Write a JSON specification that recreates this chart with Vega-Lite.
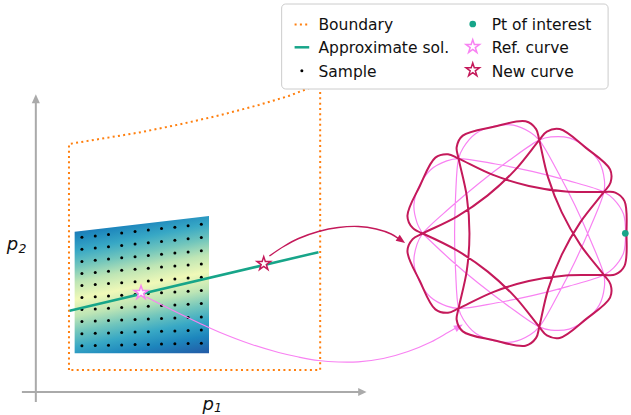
{
  "$schema": "https://vega.github.io/schema/vega-lite/v6.json",
  "width": 631,
  "height": 415,
  "autosize": {"type": "fit", "contains": "padding"},
  "padding": 0,
  "background": "white",
  "config": {"view": {"stroke": null}},
  "datasets": {
    "patch": [{"x": 75, "y": 231.7, "y2": 353.3}, {"x": 210, "y": 216, "y2": 353.3}],
    "boundary": [
      {"i": 0, "x": 69.3, "y": 370}, {"i": 1, "x": 69.3, "y": 144}, {"i": 2, "x": 100, "y": 139},
      {"i": 3, "x": 140, "y": 132.5}, {"i": 4, "x": 180, "y": 124.5}, {"i": 5, "x": 220, "y": 115.5},
      {"i": 6, "x": 260, "y": 105}, {"i": 7, "x": 290, "y": 96}, {"i": 8, "x": 307, "y": 89.5},
      {"i": 9, "x": 321.7, "y": 84}, {"i": 10, "x": 321.7, "y": 370}, {"i": 11, "x": 69.3, "y": 370}
    ],
    "grid": [
      {"x": 82.3, "y": 237.3}, {"x": 82.3, "y": 249.3}, {"x": 82.3, "y": 261.4}, {"x": 82.3, "y": 273.4}, {"x": 82.3, "y": 285.5}, {"x": 82.3, "y": 297.5}, {"x": 82.3, "y": 309.6}, {"x": 82.3, "y": 321.6}, {"x": 82.3, "y": 333.7}, {"x": 82.3, "y": 345.7},
      {"x": 95.7, "y": 235.9}, {"x": 95.7, "y": 248.0}, {"x": 95.7, "y": 260.2}, {"x": 95.7, "y": 272.4}, {"x": 95.7, "y": 284.6}, {"x": 95.7, "y": 296.7}, {"x": 95.7, "y": 308.9}, {"x": 95.7, "y": 321.1}, {"x": 95.7, "y": 333.3}, {"x": 95.7, "y": 345.4},
      {"x": 109.0, "y": 234.4}, {"x": 109.0, "y": 246.7}, {"x": 109.0, "y": 259.0}, {"x": 109.0, "y": 271.3}, {"x": 109.0, "y": 283.6}, {"x": 109.0, "y": 296.0}, {"x": 109.0, "y": 308.3}, {"x": 109.0, "y": 320.6}, {"x": 109.0, "y": 332.9}, {"x": 109.0, "y": 345.2},
      {"x": 122.3, "y": 233.0}, {"x": 122.3, "y": 245.4}, {"x": 122.3, "y": 257.8}, {"x": 122.3, "y": 270.3}, {"x": 122.3, "y": 282.7}, {"x": 122.3, "y": 295.2}, {"x": 122.3, "y": 307.6}, {"x": 122.3, "y": 320.0}, {"x": 122.3, "y": 332.5}, {"x": 122.3, "y": 344.9},
      {"x": 135.7, "y": 231.5}, {"x": 135.7, "y": 244.1}, {"x": 135.7, "y": 256.7}, {"x": 135.7, "y": 269.2}, {"x": 135.7, "y": 281.8}, {"x": 135.7, "y": 294.4}, {"x": 135.7, "y": 306.9}, {"x": 135.7, "y": 319.5}, {"x": 135.7, "y": 332.1}, {"x": 135.7, "y": 344.6},
      {"x": 149.0, "y": 230.1}, {"x": 149.0, "y": 242.8}, {"x": 149.0, "y": 255.5}, {"x": 149.0, "y": 268.2}, {"x": 149.0, "y": 280.9}, {"x": 149.0, "y": 293.6}, {"x": 149.0, "y": 306.3}, {"x": 149.0, "y": 319.0}, {"x": 149.0, "y": 331.7}, {"x": 149.0, "y": 344.4},
      {"x": 162.3, "y": 228.6}, {"x": 162.3, "y": 241.5}, {"x": 162.3, "y": 254.3}, {"x": 162.3, "y": 267.1}, {"x": 162.3, "y": 280.0}, {"x": 162.3, "y": 292.8}, {"x": 162.3, "y": 305.6}, {"x": 162.3, "y": 318.4}, {"x": 162.3, "y": 331.3}, {"x": 162.3, "y": 344.1},
      {"x": 175.7, "y": 227.2}, {"x": 175.7, "y": 240.2}, {"x": 175.7, "y": 253.1}, {"x": 175.7, "y": 266.1}, {"x": 175.7, "y": 279.0}, {"x": 175.7, "y": 292.0}, {"x": 175.7, "y": 305.0}, {"x": 175.7, "y": 317.9}, {"x": 175.7, "y": 330.9}, {"x": 175.7, "y": 343.8},
      {"x": 189.0, "y": 225.7}, {"x": 189.0, "y": 238.8}, {"x": 189.0, "y": 251.9}, {"x": 189.0, "y": 265.0}, {"x": 189.0, "y": 278.1}, {"x": 189.0, "y": 291.2}, {"x": 189.0, "y": 304.3}, {"x": 189.0, "y": 317.4}, {"x": 189.0, "y": 330.5}, {"x": 189.0, "y": 343.6},
      {"x": 202.3, "y": 224.3}, {"x": 202.3, "y": 237.5}, {"x": 202.3, "y": 250.7}, {"x": 202.3, "y": 264.0}, {"x": 202.3, "y": 277.2}, {"x": 202.3, "y": 290.4}, {"x": 202.3, "y": 303.6}, {"x": 202.3, "y": 316.9}, {"x": 202.3, "y": 330.1}, {"x": 202.3, "y": 343.3}
    ],
    "sol": [{"x": 70, "y": 310.7}, {"x": 320, "y": 252.2}],
    "pinkArrow": [
      {"i": 0, "x": 147, "y": 297}, {"i": 1, "x": 175, "y": 311}, {"i": 2, "x": 200, "y": 323}, {"i": 3, "x": 220, "y": 332},
      {"i": 4, "x": 253, "y": 344.5}, {"i": 5, "x": 280, "y": 352.5}, {"i": 6, "x": 300, "y": 357}, {"i": 7, "x": 320, "y": 360.5},
      {"i": 8, "x": 340, "y": 362}, {"i": 9, "x": 360, "y": 361.8}, {"i": 10, "x": 385, "y": 358.5}, {"i": 11, "x": 410, "y": 351.5},
      {"i": 12, "x": 433, "y": 342}, {"i": 13, "x": 450, "y": 332.5}, {"i": 14, "x": 458, "y": 328}
    ],
    "darkArrow": [
      {"i": 0, "x": 270.7, "y": 256}, {"i": 1, "x": 285, "y": 246.5}, {"i": 2, "x": 300, "y": 238.5}, {"i": 3, "x": 320, "y": 231.5},
      {"i": 4, "x": 340, "y": 227.5}, {"i": 5, "x": 360, "y": 226.5}, {"i": 6, "x": 378, "y": 229}, {"i": 7, "x": 393, "y": 234}, {"i": 8, "x": 401, "y": 239}
    ],
    "pink": [
      {"i": 0, "x": 424.7, "y": 233.5}, {"i": 1, "x": 419.06, "y": 222.84}, {"i": 2, "x": 415.9, "y": 204.69}, {"i": 3, "x": 421.39, "y": 185.77},
      {"i": 4, "x": 432.75, "y": 169.68}, {"i": 5, "x": 448.92, "y": 160.84}, {"i": 6, "x": 460.77, "y": 158.6}, {"i": 7, "x": 497.95, "y": 164.01},
      {"i": 8, "x": 534.68, "y": 171.37}, {"i": 9, "x": 570.97, "y": 180.68}, {"i": 10, "x": 606.81, "y": 191.93}, {"i": 11, "x": 616.52, "y": 199.09},
      {"i": 12, "x": 626.5, "y": 214.07}, {"i": 13, "x": 628.5, "y": 233.5}, {"i": 14, "x": 626.5, "y": 252.93}, {"i": 15, "x": 616.52, "y": 267.91},
      {"i": 16, "x": 606.81, "y": 275.07}, {"i": 17, "x": 570.97, "y": 286.32}, {"i": 18, "x": 534.68, "y": 295.63}, {"i": 19, "x": 497.95, "y": 302.99},
      {"i": 20, "x": 460.77, "y": 308.4}, {"i": 21, "x": 448.92, "y": 306.16}, {"i": 22, "x": 432.75, "y": 297.32}, {"i": 23, "x": 421.39, "y": 281.23},
      {"i": 24, "x": 415.9, "y": 262.31}, {"i": 25, "x": 419.06, "y": 244.16}, {"i": 26, "x": 424.7, "y": 233.5}, {"i": 27, "x": 452.11, "y": 207.81},
      {"i": 28, "x": 480.76, "y": 183.67}, {"i": 29, "x": 510.67, "y": 161.1}, {"i": 30, "x": 541.82, "y": 140.1}, {"i": 31, "x": 553.47, "y": 136.97},
      {"i": 32, "x": 571.87, "y": 137.93}, {"i": 33, "x": 589.08, "y": 147.5}, {"i": 34, "x": 602.24, "y": 162.15}, {"i": 35, "x": 607.27, "y": 179.88},
      {"i": 36, "x": 606.81, "y": 191.93}, {"i": 37, "x": 593.27, "y": 226.98}, {"i": 38, "x": 577.92, "y": 261.15}, {"i": 39, "x": 560.77, "y": 294.46},
      {"i": 40, "x": 541.82, "y": 326.9}, {"i": 41, "x": 532.68, "y": 334.77}, {"i": 42, "x": 515.69, "y": 341.89}, {"i": 43, "x": 496.02, "y": 340.74},
      {"i": 44, "x": 477.81, "y": 333.25}, {"i": 45, "x": 465.59, "y": 319.46}, {"i": 46, "x": 460.77, "y": 308.4}, {"i": 47, "x": 457.77, "y": 270.95},
      {"i": 48, "x": 456.77, "y": 233.5}, {"i": 49, "x": 457.77, "y": 196.05}, {"i": 50, "x": 460.77, "y": 158.6}, {"i": 51, "x": 465.59, "y": 147.54},
      {"i": 52, "x": 477.81, "y": 133.75}, {"i": 53, "x": 496.02, "y": 126.26}, {"i": 54, "x": 515.69, "y": 125.11}, {"i": 55, "x": 532.68, "y": 132.23},
      {"i": 56, "x": 541.82, "y": 140.1}, {"i": 57, "x": 560.77, "y": 172.54}, {"i": 58, "x": 577.92, "y": 205.85}, {"i": 59, "x": 593.27, "y": 240.02},
      {"i": 60, "x": 606.81, "y": 275.07}, {"i": 61, "x": 607.27, "y": 287.12}, {"i": 62, "x": 602.24, "y": 304.85}, {"i": 63, "x": 589.08, "y": 319.5},
      {"i": 64, "x": 571.87, "y": 329.07}, {"i": 65, "x": 553.47, "y": 330.03}, {"i": 66, "x": 541.82, "y": 326.9}, {"i": 67, "x": 510.67, "y": 305.9},
      {"i": 68, "x": 480.76, "y": 283.33}, {"i": 69, "x": 452.11, "y": 259.19}, {"i": 70, "x": 424.7, "y": 233.5}
    ],
    "dark": [
      {"i": 0, "x": 424.7, "y": 233.5}, {"i": 1, "x": 414.65, "y": 227.95}, {"i": 2, "x": 409.38, "y": 215.9}, {"i": 3, "x": 421.84, "y": 185.99},
      {"i": 4, "x": 437.46, "y": 157.6}, {"i": 5, "x": 450.16, "y": 154.2}, {"i": 6, "x": 460.77, "y": 158.6}, {"i": 7, "x": 495.43, "y": 174.94},
      {"i": 8, "x": 531.36, "y": 185.92}, {"i": 9, "x": 568.49, "y": 191.61}, {"i": 10, "x": 606.81, "y": 191.93}, {"i": 11, "x": 618.28, "y": 192.57},
      {"i": 12, "x": 627.5, "y": 201.14}, {"i": 13, "x": 629.5, "y": 233.5}, {"i": 14, "x": 627.5, "y": 265.86}, {"i": 15, "x": 618.28, "y": 274.43},
      {"i": 16, "x": 606.81, "y": 275.07}, {"i": 17, "x": 568.49, "y": 275.39}, {"i": 18, "x": 531.36, "y": 281.08}, {"i": 19, "x": 495.43, "y": 292.06},
      {"i": 20, "x": 460.77, "y": 308.4}, {"i": 21, "x": 450.16, "y": 312.8}, {"i": 22, "x": 437.46, "y": 309.4}, {"i": 23, "x": 421.84, "y": 281.01},
      {"i": 24, "x": 409.38, "y": 251.1}, {"i": 25, "x": 414.65, "y": 239.05}, {"i": 26, "x": 424.7, "y": 233.5}, {"i": 27, "x": 459.09, "y": 216.58},
      {"i": 28, "x": 490.07, "y": 195.35}, {"i": 29, "x": 517.67, "y": 169.86}, {"i": 30, "x": 541.82, "y": 140.1}, {"i": 31, "x": 549.46, "y": 131.53},
      {"i": 32, "x": 562.38, "y": 129.09}, {"i": 33, "x": 588.77, "y": 147.89}, {"i": 34, "x": 612.98, "y": 169.43}, {"i": 35, "x": 613.47, "y": 182.57},
      {"i": 36, "x": 606.81, "y": 191.93}, {"i": 37, "x": 583.17, "y": 222.1}, {"i": 38, "x": 564.47, "y": 254.67}, {"i": 39, "x": 550.66, "y": 289.61},
      {"i": 40, "x": 541.82, "y": 326.9}, {"i": 41, "x": 538.65, "y": 337.94}, {"i": 42, "x": 528.07, "y": 345.75}, {"i": 43, "x": 496.13, "y": 340.25},
      {"i": 44, "x": 464.98, "y": 331.35}, {"i": 45, "x": 458.84, "y": 319.72}, {"i": 46, "x": 460.77, "y": 308.4}, {"i": 47, "x": 468.98, "y": 270.97},
      {"i": 48, "x": 471.7, "y": 233.5}, {"i": 49, "x": 468.98, "y": 196.03}, {"i": 50, "x": 460.77, "y": 158.6}, {"i": 51, "x": 458.84, "y": 147.28},
      {"i": 52, "x": 464.98, "y": 135.65}, {"i": 53, "x": 496.13, "y": 126.75}, {"i": 54, "x": 528.07, "y": 121.25}, {"i": 55, "x": 538.65, "y": 129.06},
      {"i": 56, "x": 541.82, "y": 140.1}, {"i": 57, "x": 550.66, "y": 177.39}, {"i": 58, "x": 564.47, "y": 212.33}, {"i": 59, "x": 583.17, "y": 244.9},
      {"i": 60, "x": 606.81, "y": 275.07}, {"i": 61, "x": 613.47, "y": 284.43}, {"i": 62, "x": 612.98, "y": 297.57}, {"i": 63, "x": 588.77, "y": 319.11},
      {"i": 64, "x": 562.38, "y": 337.91}, {"i": 65, "x": 549.46, "y": 335.47}, {"i": 66, "x": 541.82, "y": 326.9}, {"i": 67, "x": 517.67, "y": 297.14},
      {"i": 68, "x": 490.07, "y": 271.65}, {"i": 69, "x": 459.09, "y": 250.42}, {"i": 70, "x": 424.7, "y": 233.5}
    ],
    "axes": [{"x": 36, "y": 402, "x2": 36, "y2": 100}, {"x": 22, "y": 392, "x2": 362, "y2": 392}],
    "legendText": [
      {"x": 320, "y": 30, "label": "Boundary"}, {"x": 320, "y": 53.3, "label": "Approximate sol."}, {"x": 320, "y": 76.5, "label": "Sample"},
      {"x": 494, "y": 30, "label": "Pt of interest"}, {"x": 494, "y": 53.3, "label": "Ref. curve"}, {"x": 494, "y": 76.5, "label": "New curve"}
    ]
  },
  "encoding": {
    "x": {"field": "x", "type": "quantitative", "scale": {"domain": [0, 631], "nice": false, "zero": false}, "axis": null},
    "y": {"field": "y", "type": "quantitative", "scale": {"domain": [0, 415], "nice": false, "zero": false, "reverse": true}, "axis": null}
  },
  "layer": [
    {
      "data": {"name": "patch"},
      "mark": {"type": "area", "color": {"gradient": "linear", "x1": 0.3766, "y1": -0.1011, "x2": 0.6234, "y2": 1.1135,
        "stops": [
          {"offset": 0, "color": "#2356a4"}, {"offset": 0.041, "color": "#225ea8"}, {"offset": 0.135, "color": "#1d86bd"},
          {"offset": 0.224, "color": "#38a8c5"}, {"offset": 0.312, "color": "#72c6bc"}, {"offset": 0.4, "color": "#bde5b5"},
          {"offset": 0.5, "color": "#f0f9b8"}, {"offset": 0.6, "color": "#bde5b5"}, {"offset": 0.688, "color": "#72c6bc"},
          {"offset": 0.776, "color": "#38a8c5"}, {"offset": 0.865, "color": "#1d86bd"}, {"offset": 0.959, "color": "#225ea8"},
          {"offset": 1, "color": "#2356a4"}]}},
      "encoding": {"y2": {"field": "y2"}}
    },
    {
      "data": {"name": "boundary"},
      "mark": {"type": "line", "color": "#ff7f0e", "strokeWidth": 2, "strokeDash": [2, 3.3]},
      "encoding": {"order": {"field": "i", "type": "quantitative"}}
    },
    {
      "data": {"name": "grid"},
      "mark": {"type": "circle", "color": "black", "size": 9, "opacity": 1}
    },
    {
      "data": {"name": "sol"},
      "mark": {"type": "line", "color": "#17a589", "strokeWidth": 2.5}
    },
    {
      "data": {"name": "pinkArrow"},
      "mark": {"type": "line", "color": "#f882f2", "strokeWidth": 1.2, "interpolate": "catmull-rom"},
      "encoding": {"order": {"field": "i", "type": "quantitative"}}
    },
    {
      "data": {"values": [{"x": 461.1, "y": 326.7}]},
      "mark": {"type": "point", "shape": "M1,0L-1,-0.8L-1,0.8Z", "size": 81, "angle": 331, "filled": true, "color": "#f882f2", "opacity": 1, "strokeWidth": 0}
    },
    {
      "data": {"name": "darkArrow"},
      "mark": {"type": "line", "color": "#c4195a", "strokeWidth": 1.4, "interpolate": "catmull-rom"},
      "encoding": {"order": {"field": "i", "type": "quantitative"}}
    },
    {
      "data": {"values": [{"x": 403.3, "y": 240.4}]},
      "mark": {"type": "point", "shape": "M1,0L-1,-0.8L-1,0.8Z", "size": 81, "angle": 35, "filled": true, "color": "#c4195a", "opacity": 1, "strokeWidth": 0}
    },
    {
      "data": {"values": [{"x": 141.7, "y": 292.7}]},
      "mark": {"type": "point", "shape": "M0,-1L0.2245,-0.309L0.951,-0.309L0.363,0.118L0.588,0.809L0,0.382L-0.588,0.809L-0.363,0.118L-0.951,-0.309L-0.2245,-0.309Z", "size": 200, "fill": "white", "stroke": "#f882f2", "strokeWidth": 1.5, "opacity": 1}
    },
    {
      "data": {"values": [{"x": 265, "y": 263.7}]},
      "mark": {"type": "point", "shape": "M0,-1L0.2245,-0.309L0.951,-0.309L0.363,0.118L0.588,0.809L0,0.382L-0.588,0.809L-0.363,0.118L-0.951,-0.309L-0.2245,-0.309Z", "size": 200, "fill": "white", "stroke": "#c4195a", "strokeWidth": 1.5, "opacity": 1}
    },
    {
      "data": {"name": "pink"},
      "mark": {"type": "line", "color": "#f882f2", "strokeWidth": 1.2, "interpolate": "catmull-rom"},
      "encoding": {"order": {"field": "i", "type": "quantitative"}}
    },
    {
      "data": {"name": "dark"},
      "mark": {"type": "line", "color": "#c4195a", "strokeWidth": 2, "interpolate": "catmull-rom"},
      "encoding": {"order": {"field": "i", "type": "quantitative"}}
    },
    {
      "data": {"values": [{"x": 628.3, "y": 233.3}]},
      "mark": {"type": "circle", "color": "#17a589", "size": 45, "opacity": 1}
    },
    {
      "data": {"name": "axes"},
      "mark": {"type": "rule", "color": "#aaaaaa", "strokeWidth": 2},
      "encoding": {"x2": {"field": "x2"}, "y2": {"field": "y2"}}
    },
    {
      "data": {"values": [{"x": 36, "y": 98.8}]},
      "mark": {"type": "point", "shape": "M0,-1L0.9,1L-0.9,1Z", "size": 81, "filled": true, "color": "#aaaaaa", "opacity": 1, "strokeWidth": 0}
    },
    {
      "data": {"values": [{"x": 364.1, "y": 392}]},
      "mark": {"type": "point", "shape": "M1,0L-1,-0.95L-1,0.95Z", "size": 70, "filled": true, "color": "#aaaaaa", "opacity": 1, "strokeWidth": 0}
    },
    {
      "data": {"values": [{"x": 203.5, "y": 409.5, "label": "p"}, {"x": 6.7, "y": 249.5, "label": "p"}]},
      "mark": {"type": "text", "font": "DejaVu Sans", "fontSize": 18, "fontStyle": "italic", "align": "left", "baseline": "alphabetic", "color": "#111111"},
      "encoding": {"text": {"field": "label"}}
    },
    {
      "data": {"values": [{"x": 215, "y": 411.7, "label": "1"}, {"x": 18.5, "y": 253, "label": "2"}]},
      "mark": {"type": "text", "font": "DejaVu Sans", "fontSize": 12.5, "fontStyle": "italic", "align": "left", "baseline": "alphabetic", "color": "#111111"},
      "encoding": {"text": {"field": "label"}}
    },
    {
      "data": {"values": [{"x": 283, "y": 4, "x2": 611, "y2": 89}]},
      "mark": {"type": "rect", "fill": "white", "stroke": "#cccccc", "strokeWidth": 1, "cornerRadius": 4, "opacity": 1},
      "encoding": {"x2": {"field": "x2"}, "y2": {"field": "y2"}}
    },
    {
      "data": {"values": [{"x": 296, "y": 24.5, "x2": 310.7}]},
      "mark": {"type": "rule", "color": "#ff7f0e", "strokeWidth": 2, "strokeDash": [2, 3.3]},
      "encoding": {"x2": {"field": "x2"}}
    },
    {
      "data": {"values": [{"x": 296, "y": 47.3, "x2": 310.7}]},
      "mark": {"type": "rule", "color": "#17a589", "strokeWidth": 2.5},
      "encoding": {"x2": {"field": "x2"}}
    },
    {
      "data": {"values": [{"x": 303.3, "y": 70.7}]},
      "mark": {"type": "circle", "color": "black", "size": 9, "opacity": 1}
    },
    {
      "data": {"values": [{"x": 475, "y": 24}]},
      "mark": {"type": "circle", "color": "#17a589", "size": 45, "opacity": 1}
    },
    {
      "data": {"values": [{"x": 475, "y": 46.7}]},
      "mark": {"type": "point", "shape": "M0,-1L0.2245,-0.309L0.951,-0.309L0.363,0.118L0.588,0.809L0,0.382L-0.588,0.809L-0.363,0.118L-0.951,-0.309L-0.2245,-0.309Z", "size": 200, "fill": "white", "stroke": "#f882f2", "strokeWidth": 1.5, "opacity": 1}
    },
    {
      "data": {"values": [{"x": 475, "y": 70}]},
      "mark": {"type": "point", "shape": "M0,-1L0.2245,-0.309L0.951,-0.309L0.363,0.118L0.588,0.809L0,0.382L-0.588,0.809L-0.363,0.118L-0.951,-0.309L-0.2245,-0.309Z", "size": 200, "fill": "white", "stroke": "#c4195a", "strokeWidth": 1.5, "opacity": 1}
    },
    {
      "data": {"name": "legendText"},
      "mark": {"type": "text", "font": "DejaVu Sans", "fontSize": 15.5, "align": "left", "baseline": "alphabetic", "color": "#111111"},
      "encoding": {"text": {"field": "label"}}
    }
  ]
}
